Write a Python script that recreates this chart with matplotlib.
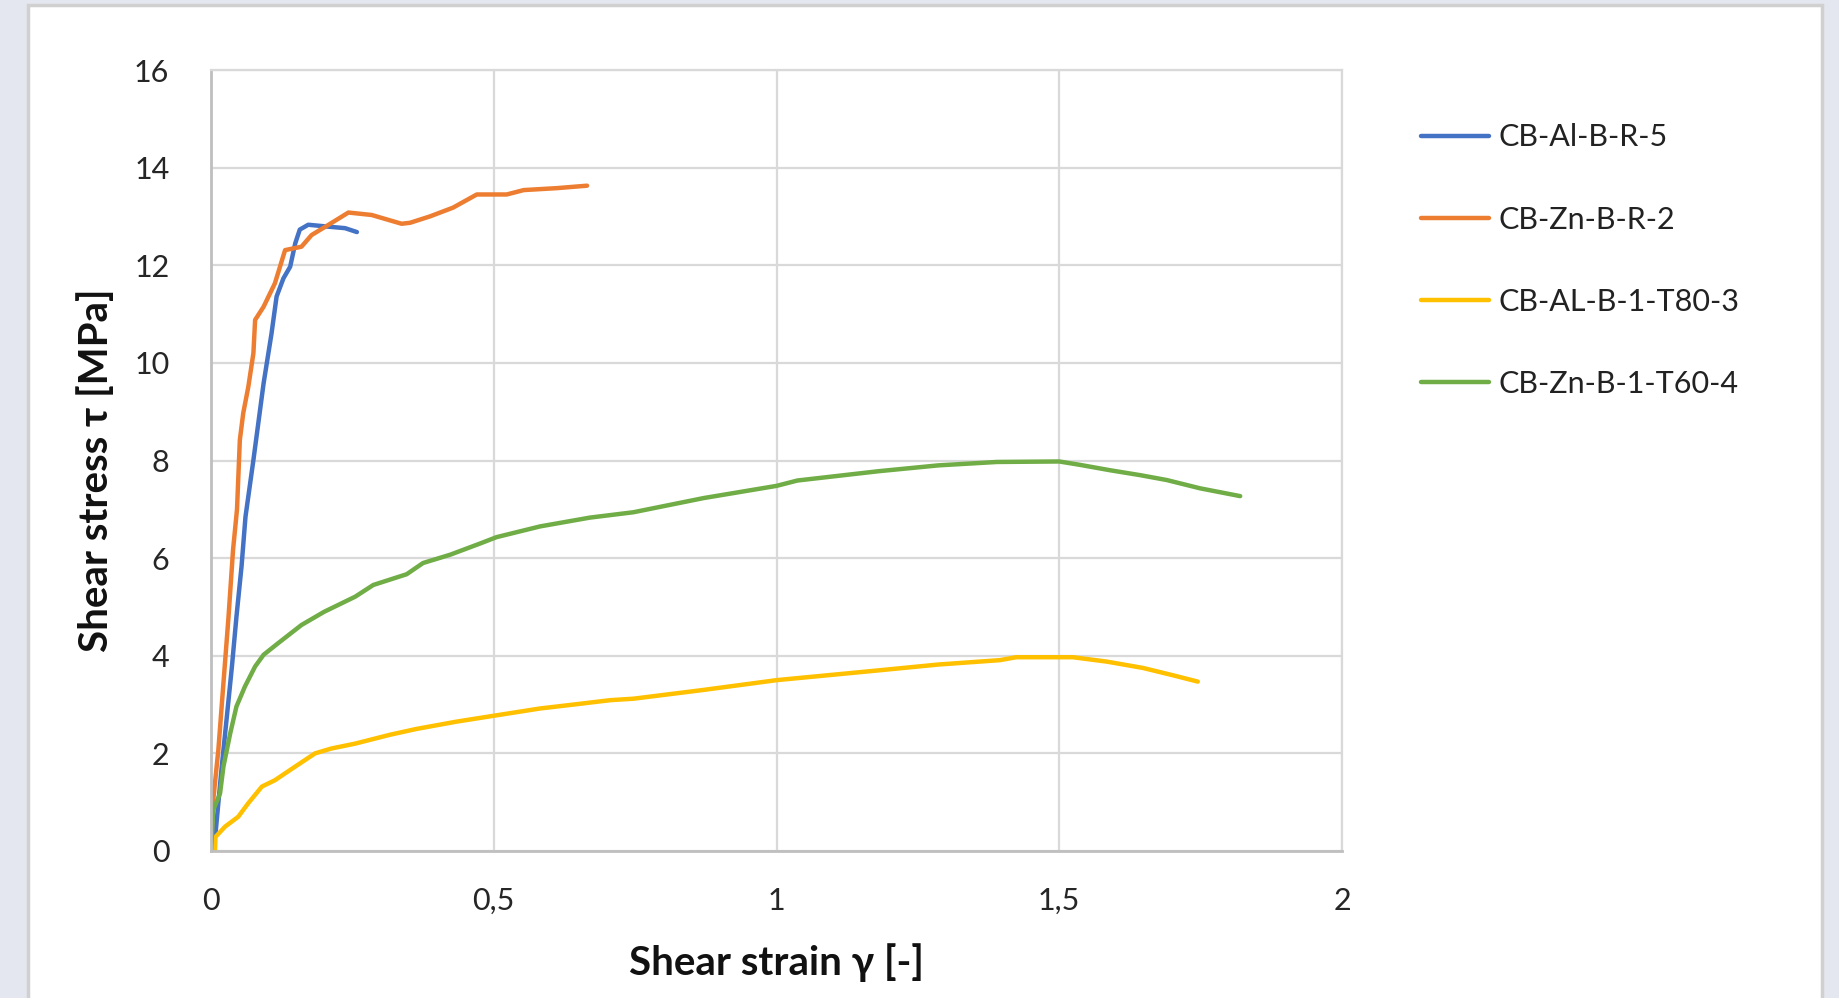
import matplotlib.pyplot as plt
from matplotlib.patches import Rectangle

plt.rcParams['font.family'] = ['Lato', 'DejaVu Sans']

# CB-Al-B-R-5
al_r_x = [0, 0.008, 0.019, 0.028, 0.037, 0.045, 0.054, 0.061, 0.075, 0.093, 0.107, 0.116,
          0.128, 0.140, 0.149, 0.157, 0.172, 0.208, 0.237, 0.258]
al_r_y = [0, 0.36, 1.73, 2.75, 3.78, 4.8, 5.83, 6.85, 8.01, 9.58, 10.6, 11.36,
          11.73, 11.97, 12.45, 12.73, 12.83, 12.79, 12.76, 12.68]

# CB-Zn-B-R-2
zn_r_x = [0, 0.004, 0.013, 0.022, 0.031, 0.039, 0.046, 0.051, 0.057, 0.066, 0.075, 0.078,
          0.093, 0.113, 0.131, 0.160, 0.178, 0.208, 0.243, 0.284, 0.337, 0.352,
          0.387, 0.428, 0.470, 0.523, 0.553, 0.612, 0.665]
zn_r_y = [0, 1.05, 2.07, 3.44, 4.8, 6.17, 7.0, 8.42, 8.97, 9.51, 10.2, 10.88,
          11.15, 11.63, 12.31, 12.38, 12.62, 12.83, 13.08, 13.03, 12.85, 12.87,
          13.0, 13.18, 13.45, 13.45, 13.54, 13.58, 13.63]

# CB-AL-B-1-T80-3
al_t_x = [0, 0.007, 0.008, 0.025, 0.048, 0.066, 0.090, 0.113, 0.149, 0.184, 0.213, 0.255,
          0.316, 0.363, 0.434, 0.505, 0.582, 0.641, 0.706, 0.747, 0.871, 1.0, 1.18, 1.286,
          1.395, 1.424, 1.524, 1.584, 1.648, 1.701, 1.745]
al_t_y = [0, 0.0, 0.29, 0.5, 0.7, 0.98, 1.32, 1.45, 1.73, 2.0, 2.1, 2.2,
          2.38, 2.5, 2.65, 2.78, 2.92, 3.0, 3.09, 3.12, 3.3, 3.5, 3.7, 3.82,
          3.91, 3.97, 3.97, 3.88, 3.75, 3.6, 3.47]

# CB-Zn-B-1-T60-4
zn_t_x = [0, 0.004, 0.016, 0.022, 0.034, 0.045, 0.060, 0.078, 0.093, 0.119, 0.160, 0.200,
          0.255, 0.287, 0.346, 0.375, 0.423, 0.476, 0.505, 0.582, 0.670, 0.747, 0.871, 1.0,
          1.037, 1.18, 1.286, 1.39, 1.5, 1.537, 1.59, 1.643, 1.69, 1.749, 1.82]
zn_t_y = [0, 0.84, 1.18, 1.73, 2.41, 2.96, 3.37, 3.78, 4.02, 4.26, 4.63, 4.9,
          5.21, 5.45, 5.67, 5.9, 6.07, 6.3, 6.43, 6.65, 6.83, 6.94, 7.23, 7.48,
          7.59, 7.78, 7.9, 7.97, 7.98, 7.91, 7.8, 7.70, 7.6, 7.43, 7.27]

series = [
    (al_r_x, al_r_y, 'CB-Al-B-R-5', '#4472C4'),
    (zn_r_x, zn_r_y, 'CB-Zn-B-R-2', '#ED7D31'),
    (al_t_x, al_t_y, 'CB-AL-B-1-T80-3', '#FFC000'),
    (zn_t_x, zn_t_y, 'CB-Zn-B-1-T60-4', '#70AD47'),
]

x_ticks = [0, 0.5, 1, 1.5, 2]
x_tick_labels = ['0', '0,5', '1', '1,5', '2']
y_ticks = [0, 2, 4, 6, 8, 10, 12, 14, 16]

W, H = 1839, 998
fig = plt.figure(figsize=(W / 100, H / 100), dpi=100)
fig.patch.set_facecolor('#e4e7ef')

# white chart card behind everything
card = Rectangle((28 / W, -0.05), (1822 - 28) / W, (H - 5) / H + 0.05,
                 transform=fig.transFigure, facecolor='white',
                 edgecolor='#d0d0d0', linewidth=2.5, zorder=-10)
fig.patches.append(card)

ax = fig.add_axes([211 / W, 1 - 851 / H, (1342 - 211) / W, (851 - 70) / H])
ax.set_zorder(1)
ax.set_facecolor('white')

for xs, ys, name, col in series:
    ax.plot(xs, ys, color=col, linewidth=3.2, label=name, solid_capstyle='round')

ax.set_xlim(0, 2)
ax.set_ylim(0, 16)
ax.set_xticks(x_ticks)
ax.set_xticklabels(x_tick_labels)
ax.set_yticks(y_ticks)
ax.grid(True, color='#d9d9d9', linewidth=1.6)
ax.set_axisbelow(True)
for s in ['top', 'right']:
    ax.spines[s].set_color('#d9d9d9')
    ax.spines[s].set_linewidth(1.6)
for s in ['left', 'bottom']:
    ax.spines[s].set_color('#bfbfbf')
    ax.spines[s].set_linewidth(2)
ax.tick_params(axis='both', length=0, labelsize=22, colors='#262626')
ax.tick_params(axis='y', pad=30)
ax.tick_params(axis='x', pad=26)

ax.set_xlabel('Shear strain γ [-]', fontsize=29, fontweight='bold', color='#111111', labelpad=20)
ax.set_ylabel('Shear stress τ [MPa]', fontsize=29, fontweight='bold', color='#111111', labelpad=14)
ax.yaxis.label.set_y(0.488)

leg = fig.legend(loc='upper left', bbox_to_anchor=(1393 / W, 1 - 96 / H), frameon=False,
                 fontsize=22, handlelength=2.25, handletextpad=0.3, labelspacing=1.77,
                 labelcolor='#222222')
leg.set_zorder(2)

fig.savefig('out.png', dpi=100, facecolor=fig.get_facecolor())
